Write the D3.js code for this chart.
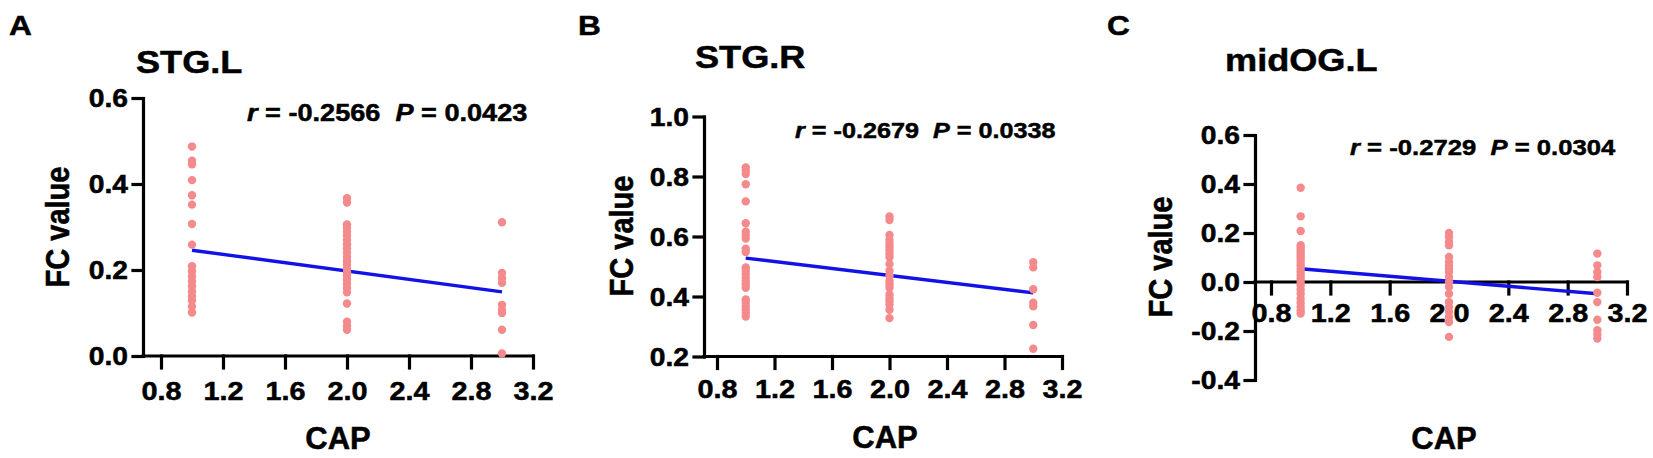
<!DOCTYPE html>
<html>
<head>
<meta charset="utf-8">
<script src="https://cdn.jsdelivr.net/npm/d3@7"></script>
<style>
  html, body { margin: 0; padding: 0; background: #fff; }
  svg { display: block; }
  text { font-family: "Liberation Sans", Arial, sans-serif; font-weight: bold; fill: #000; stroke: #000; stroke-width: 0.5px; }
</style>
</head>
<body>
<svg id="chart" width="1653" height="458"></svg>
<script>
/* global d3 */

// CAP groups and x ticks shared by the three panels
var capLevels = [1, 2, 3]
var xTicks = [0.8, 1.2, 1.6, 2.0, 2.4, 2.8, 3.2]

// STG.L (panel A), FC value by CAP group
var stgLCap1 = [0.487, 0.454, 0.446, 0.409, 0.374, 0.352, 0.307, 0.259, 0.209, 0.197, 0.185, 0.174, 0.162, 0.150, 0.139, 0.129, 0.115, 0.101]
var stgLCap2 = [0.367, 0.357, 0.306, 0.298, 0.289, 0.280, 0.270, 0.260, 0.250, 0.240, 0.230, 0.221, 0.212, 0.203, 0.195, 0.187, 0.178, 0.168, 0.158, 0.148, 0.122, 0.080, 0.070, 0.061]
var stgLCap3 = [0.311, 0.193, 0.181, 0.170, 0.119, 0.107, 0.100, 0.061, 0.006]
var stgLFit = [0.246, 0.149]
var stgLTicks = [0, 0.2, 0.4, 0.6]

// STG.R (panel B)
var stgRCap1 = [0.830, 0.819, 0.808, 0.774, 0.717, 0.644, 0.616, 0.605, 0.593, 0.559, 0.548, 0.497, 0.486, 0.475, 0.463, 0.452, 0.441, 0.429, 0.390, 0.379, 0.367, 0.356, 0.345, 0.333]
var stgRCap2 = [0.667, 0.655, 0.605, 0.588, 0.576, 0.565, 0.554, 0.542, 0.531, 0.508, 0.486, 0.469, 0.452, 0.441, 0.429, 0.407, 0.395, 0.384, 0.373, 0.356, 0.328]
var stgRCap3 = [0.514, 0.497, 0.424, 0.379, 0.367, 0.305, 0.226]
var stgRFit = [0.528, 0.412]
var stgRTicks = [0.2, 0.4, 0.6, 0.8, 1.0]

// midOG.L (panel C)
var midOGLCap1 = [0.385, 0.268, 0.208, 0.150, 0.140, 0.129, 0.118, 0.106, 0.095, 0.082, 0.068, 0.054, 0.041, 0.027, 0.014, 0.000, -0.014, -0.031, -0.048, -0.068, -0.086, -0.102, -0.116, -0.129]
var midOGLCap2 = [0.200, 0.184, 0.163, 0.150, 0.102, 0.082, 0.068, 0.054, 0.041, 0.020, 0.000, -0.020, -0.048, -0.082, -0.102, -0.122, -0.143, -0.163, -0.224]
var midOGLCap3 = [0.116, 0.068, 0.041, 0.020, -0.044, -0.082, -0.154, -0.197, -0.214, -0.231]
var midOGLFit = [0.054, -0.048]
var midOGLTicks = [-0.4, -0.2, 0, 0.2, 0.4, 0.6]

var panelLetters = ['A', 'B', 'C']
var regionNames = ['STG.L', 'STG.R', 'midOG.L']
var rValues = ['-0.2566', '-0.2679', '-0.2729']
var pValues = ['0.0423', '0.0338', '0.0304']

;(function () {
  var SX = 1.13 // the figure is a little stretched horizontally
  var dotColor = '#f58a8c'
  var lineColor = '#1212e6'

  var panels = [
    {groups: [stgLCap1, stgLCap2, stgLCap3], fit: stgLFit, yTicks: stgLTicks},
    {groups: [stgRCap1, stgRCap2, stgRCap3], fit: stgRFit, yTicks: stgRTicks},
    {groups: [midOGLCap1, midOGLCap2, midOGLCap3], fit: midOGLFit, yTicks: midOGLTicks}
  ]

  // placement of each panel (pixels)
  var layout = [
    {letter: [9, 35], title: [136, 73], stats: [247, 121, 24], xr: [161, 533], yr: [356, 98],
      axisX: 143, xLab: 44, cap: [338, 449], yLab: [58, 227]},
    {letter: [578, 35], title: [695, 68], stats: [795, 138, 22.3], xr: [717, 1062], yr: [356.5, 116.5],
      axisX: 704, xLab: 41.5, cap: [885, 448], yLab: [622, 236]},
    {letter: [1107, 35], title: [1225, 71], stats: [1350, 155, 22.7], xr: [1271, 1627], yr: [380, 135],
      axisX: 1255, xLab: 40, cap: [1444, 449], yLab: [1161, 257]}
  ]

  var svg = d3.select('#chart')
  var fmt = v => v.toFixed(1)

  function putText (sel, x, y, sx, rot) {
    return sel.attr('transform', `translate(${x},${y}) scale(${sx},1)` + (rot ? ` rotate(${rot})` : ''))
  }

  panels.forEach((p, i) => {
    var L = layout[i]
    var g = svg.append('g').attr('class', 'panel')

    var x = d3.scaleLinear().domain([0.8, 3.2]).range(L.xr)
    var yExt = d3.extent(p.yTicks)
    var y = d3.scaleLinear().domain(yExt).range(L.yr)
    var zeroY = y(Math.max(0, yExt[0]))

    /*
        --------------------------------------
        Labels
    */
    putText(g.append('text').text(panelLetters[i]).style('font-size', '28px'),
        L.letter[0], L.letter[1], SX)

    putText(g.append('text').text(regionNames[i]).style('font-size', '32px'),
        L.title[0], L.title[1], SX)

    var st = g.append('text').style('font-size', L.stats[2] + 'px').style('white-space', 'pre')
    st.append('tspan').style('font-style', 'italic').text('r')
    st.append('tspan').text(' = ' + rValues[i] + '  ')
    st.append('tspan').style('font-style', 'italic').text('P')
    st.append('tspan').text(' = ' + pValues[i])
    putText(st, L.stats[0], L.stats[1], SX)

    putText(g.append('text').text('FC value').style('font-size', '29px')
        .attr('text-anchor', 'middle').attr('dy', '0.35em'),
        L.yLab[0], L.yLab[1], SX, -90)

    putText(g.append('text').text('CAP').style('font-size', '31px').attr('text-anchor', 'middle'),
        L.cap[0], L.cap[1], 1)

    /*
        --------------------------------------
        Axes
    */
    var yAxis = d3.axisLeft(y)
        .tickValues(p.yTicks)
        .tickSize(10)
        .tickSizeOuter(0)
        .tickFormat(fmt)

    var gy = g.append('g')
        .attr('transform', `translate(${L.axisX},0)`)
        .call(yAxis)
    gy.selectAll('text')
        .attr('x', null).attr('dy', '0.35em')
        .style('font-size', '25px')
        .attr('transform', `translate(-15,0) scale(${SX},1)`)

    var xAxis = d3.axisBottom(x)
        .tickValues(xTicks)
        .tickSize(12)
        .tickSizeOuter(0)
        .tickFormat(fmt)

    var gx = g.append('g')
        .attr('transform', `translate(0,${zeroY})`)
        .call(xAxis)
    gx.select('.domain').remove()
    gx.selectAll('text')
        .attr('y', null).attr('dy', null)
        .style('font-size', '25.5px')
        .attr('transform', `translate(0,${L.xLab}) scale(${SX},1)`)
    gx.append('line')
        .attr('x1', L.axisX).attr('x2', L.xr[1])
        .attr('y1', 0).attr('y2', 0)

    g.selectAll('.domain, .tick line, line')
        .attr('stroke', '#000')
        .attr('stroke-width', 3.2)
        .attr('stroke-linecap', 'square')
    g.selectAll('.tick text').attr('fill', '#000')
    gx.selectAll('text').attr('text-anchor', 'middle')

    /*
        --------------------------------------
        Regression line, then points on top
    */
    g.append('line')
        .attr('x1', x(capLevels[0])).attr('y1', y(p.fit[0]))
        .attr('x2', x(capLevels[2])).attr('y2', y(p.fit[1]))
        .attr('stroke', lineColor)
        .attr('stroke-width', 3.4)
        .attr('stroke-linecap', 'butt')

    var pts = []
    p.groups.forEach((vals, k) => vals.forEach(v => pts.push({cap: capLevels[k], v: v})))

    g.append('g')
        .selectAll('circle')
        .data(pts)
        .enter()
        .append('circle')
        .attr('cx', d => x(d.cap))
        .attr('cy', d => y(d.v))
        .attr('r', 4.2)
        .style('fill', dotColor)
  })
})()
</script>
</body>
</html>
